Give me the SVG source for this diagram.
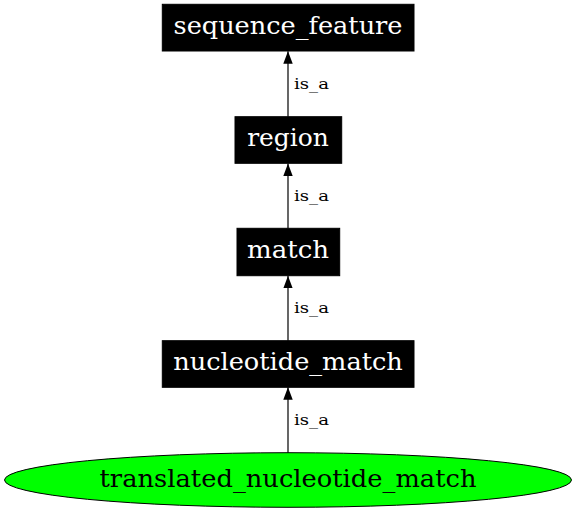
<svg xmlns="http://www.w3.org/2000/svg" width="576" height="512" viewBox="0 0 576 512">
<style>
.box{fill:#000;stroke:#000;stroke-width:1}
.nl{font-family:"DejaVu Serif",serif;font-size:24px;fill:#fff;text-anchor:middle}
.el{font-family:"DejaVu Serif",serif;font-size:14.5px;fill:#000}
.edge{stroke:#000;stroke-width:1.2;fill:none}
.ell{fill:#00ff00;stroke:#000;stroke-width:1}
.ellt{font-family:"DejaVu Serif",serif;font-size:24px;fill:#000;text-anchor:middle}
</style>
<defs>
<marker id="ah" viewBox="0 0 12.5 9.4" refX="12.5" refY="4.7" markerWidth="12.5" markerHeight="9.4" markerUnits="userSpaceOnUse" orient="auto">
<path d="M0,0 L12.5,4.7 L0,9.4 Z" fill="#000"/>
</marker>
</defs>
<rect width="576" height="512" fill="#fff"/>
<g id="edges">
<line class="edge" x1="288" y1="116.7" x2="288" y2="51.3" marker-end="url(#ah)"/>
<text class="el" x="294" y="89.3" textLength="35" lengthAdjust="spacingAndGlyphs">is_a</text>
<line class="edge" x1="288" y1="228.3" x2="288" y2="163.5" marker-end="url(#ah)"/>
<text class="el" x="294" y="200.7" textLength="35" lengthAdjust="spacingAndGlyphs">is_a</text>
<line class="edge" x1="288" y1="340.7" x2="288" y2="275.8" marker-end="url(#ah)"/>
<text class="el" x="294" y="313.3" textLength="35" lengthAdjust="spacingAndGlyphs">is_a</text>
<line class="edge" x1="288" y1="452.8" x2="288" y2="387.3" marker-end="url(#ah)"/>
<text class="el" x="294" y="425" textLength="35" lengthAdjust="spacingAndGlyphs">is_a</text>
</g>
<g id="sequence_feature">
<rect class="box" x="162.3" y="4.3" width="251.7" height="46.7"/>
<text class="nl" x="288" y="34.3" textLength="229" lengthAdjust="spacingAndGlyphs">sequence_feature</text>
</g>
<g id="region">
<rect class="box" x="235" y="116.7" width="106.7" height="46.6"/>
<text class="nl" x="288" y="146.2" textLength="81.6" lengthAdjust="spacingAndGlyphs">region</text>
</g>
<g id="match">
<rect class="box" x="237" y="228.3" width="102.7" height="47.4"/>
<text class="nl" x="288" y="257.5" textLength="82" lengthAdjust="spacingAndGlyphs">match</text>
</g>
<g id="nucleotide_match">
<rect class="box" x="162.3" y="340.7" width="251.7" height="46.6"/>
<text class="nl" x="288" y="370.3" textLength="229.6" lengthAdjust="spacingAndGlyphs">nucleotide_match</text>
</g>
<g id="translated_nucleotide_match">
<ellipse class="ell" cx="288" cy="480" rx="283.5" ry="27.3"/>
<text class="ellt" x="288" y="486.7" textLength="377" lengthAdjust="spacingAndGlyphs">translated_nucleotide_match</text>
</g>
</svg>
